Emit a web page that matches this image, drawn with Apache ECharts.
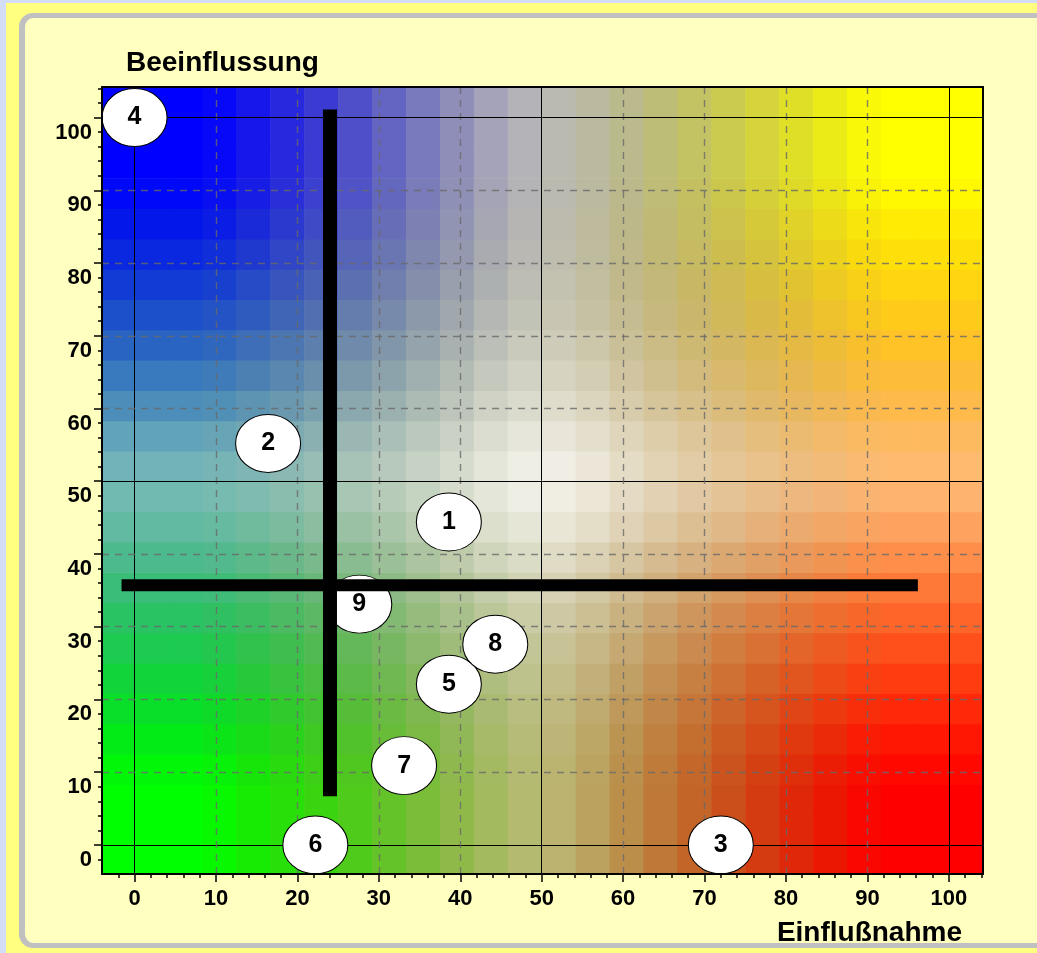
<!DOCTYPE html>
<html><head><meta charset="utf-8">
<script src="https://cdn.jsdelivr.net/npm/echarts@6/dist/echarts.min.js"></script>
<style>
html,body{margin:0;padding:0;width:1037px;height:953px;overflow:hidden;
  background:#d3ddf5;}
#frame{position:absolute;left:6px;top:3px;width:1200px;height:1000px;background:#ffff80;}
#panel{position:absolute;left:19px;top:13px;width:1100px;height:925px;border:5px solid #c0c0c0;border-left-width:6px;border-radius:14px;background:#ffffc0;}
#chart{position:absolute;left:0;top:0;width:1037px;height:953px;}
</style></head>
<body>
<div id="frame"></div><div id="panel"></div>
<div id="chart"></div>
<script>
// ---- data ----
const pointNames = ['1','2','3','4','5','6','7','8','9'];
const pointX = [38.6, 16.4, 72.0, 0.0, 38.6, 22.2, 33.1, 44.3, 27.6];
const pointY = [44.4, 55.2, 0.0, 100.0, 22.1, 0.0, 10.9, 27.6, 33.1];
const vLineX = [24.0, 24.0];
const vLineY = [6.7, 101.1];
const hLineX = [-1.6, 96.2];
const hLineY = [35.7, 35.7];
const majorTicks = [0,10,20,30,40,50,60,70,80,90,100];
const solidGridValues = [0, 50, 100];
const xName = 'Einflußnahme';
const yName = 'Beeinflussung';

// ---- background colour field (decorative style) ----
const cornerTL = [0,0,255], cornerTR = [255,255,0], cornerBL = [0,255,0], cornerBR = [255,0,0];
const whiteC = [252,250,246];
const cellSize = 100/24;
const nCells = 26;
const cellData = [], cellColors = [];
function clamp(v){return Math.max(0, Math.min(1, v));}
function s(t){const q = Math.min(1, t/0.92); return q*q;}
for (let i = 0; i < nCells; i++) {
  for (let j = 0; j < nCells; j++) {
    const x0 = -cellSize + i*cellSize, y0 = -cellSize + j*cellSize;
    const xc = x0 + cellSize/2, yc = y0 + cellSize/2;
    const u = clamp((xc-8)/84), v = clamp((yc-8)/84);
    const base = [0,1,2].map(k => (1-u)*(1-v)*cornerBL[k] + u*(1-v)*cornerBR[k] + (1-u)*v*cornerTL[k] + u*v*cornerTR[k]);
    const a = 1 - Math.abs(2*u-1), b = 1 - Math.abs(2*v-1);
    const w = 0.45*(s(a) + s(b));
    const c = base.map((bv,k) => Math.round(bv*(1-w) + whiteC[k]*w));
    cellData.push([x0, x0+cellSize, y0, y0+cellSize]);
    cellColors.push('rgb(' + c.join(',') + ')');
  }
}
const minorTicks = [];
for (let t = -2; t <= 104; t += 2) if (t % 10 !== 0) minorTicks.push(t);

const FONT = 'Liberation Sans, Arial, sans-serif';
const AX_MIN = -4, AX_MAX = 104.2;

function mainAxis(pos, isX) {
  return {
    type: 'value', position: pos, min: AX_MIN, max: AX_MAX, z: 10,
    axisLine: {show: true, onZero: false, lineStyle: {color: '#000', width: 2}},
    axisTick: {show: true, customValues: majorTicks, length: 8, lineStyle: {color: '#000', width: 1.5}},
    axisLabel: isX ? {customValues: majorTicks, margin: 14, fontSize: 22, fontWeight: 'bold', color: '#000', fontFamily: FONT}
                   : {customValues: majorTicks, margin: 10, fontSize: 22, fontWeight: 'bold', color: '#000', fontFamily: FONT, verticalAlign: 'top', padding: [4,0,0,0]},
    splitLine: {show: false}
  };
}
function minorAxis(pos) {
  return {
    type: 'value', position: pos, min: AX_MIN, max: AX_MAX, z: 10,
    axisLine: {show: false, onZero: false},
    axisTick: {show: true, customValues: minorTicks, length: 4, lineStyle: {color: '#000', width: 1.5}},
    axisLabel: {show: false}, splitLine: {show: false}
  };
}
function borderAxis(pos) {
  return {
    type: 'value', position: pos, min: AX_MIN, max: AX_MAX, z: 10,
    axisLine: {show: true, onZero: false, lineStyle: {color: '#000', width: 2}},
    axisTick: {show: false}, axisLabel: {show: false}, splitLine: {show: false}
  };
}

const dashStyle = {type: [7, 6], color: 'rgba(105,105,105,0.8)', width: 1.4};
const solidStyle = {type: 'solid', color: '#000', width: 1};
const markData = [];
majorTicks.forEach(v => {
  const st = solidGridValues.includes(v) ? solidStyle : dashStyle;
  markData.push({xAxis: v, lineStyle: st});
  markData.push({yAxis: v, lineStyle: st});
});

const chart = echarts.init(document.getElementById('chart'), null, {renderer: 'canvas'});
chart.setOption({
  animation: false,
  backgroundColor: 'transparent',
  grid: {left: 102, right: 54, top: 87, bottom: 79, containLabel: false},
  xAxis: [mainAxis('bottom', true), minorAxis('bottom'), borderAxis('top')],
  yAxis: [mainAxis('left', false), minorAxis('left'), borderAxis('right')],
  graphic: [
    {type: 'text', left: 126, top: 49, style: {text: yName, font: 'bold 28px ' + FONT, fill: '#000'}},
    {type: 'text', right: 75, top: 919, style: {text: xName, font: 'bold 28px ' + FONT, fill: '#000'}}
  ],
  series: [
    {
      type: 'custom', z: 1, clip: true, silent: true,
      data: cellData,
      renderItem: function (params, api) {
        const p0 = api.coord([api.value(0), api.value(3)]);
        const p1 = api.coord([api.value(1), api.value(2)]);
        return {type: 'rect', shape: {x: p0[0], y: p0[1], width: p1[0]-p0[0]+0.6, height: p1[1]-p0[1]+0.6},
                style: {fill: cellColors[params.dataIndex]}};
      },
      markLine: {silent: true, symbol: ['none','none'], label: {show: false}, z: 3, animation: false, data: markData}
    },
    {
      type: 'scatter', z: 6,
      symbol: 'path://M0,50 A50,50 0 1,1 100,50 A50,50 0 1,1 0,50 Z',
      symbolSize: [65, 58],
      itemStyle: {color: '#fff', borderColor: '#000', borderWidth: 1, opacity: 1},
      label: {show: true, position: 'inside', formatter: p => p.name, color: '#000', fontSize: 25, fontWeight: 'bold', fontFamily: FONT},
      data: pointNames.map((n, i) => ({name: n, value: [pointX[i], pointY[i]]}))
    },
    {
      type: 'line', z: 7, symbol: 'none', silent: true,
      lineStyle: {color: '#000', width: 14, cap: 'butt'},
      data: vLineX.map((x, i) => [x, vLineY[i]])
    },
    {
      type: 'line', z: 7, symbol: 'none', silent: true,
      lineStyle: {color: '#000', width: 12, cap: 'butt'},
      data: hLineX.map((x, i) => [x, hLineY[i]])
    }
  ]
});
</script>
</body></html>
